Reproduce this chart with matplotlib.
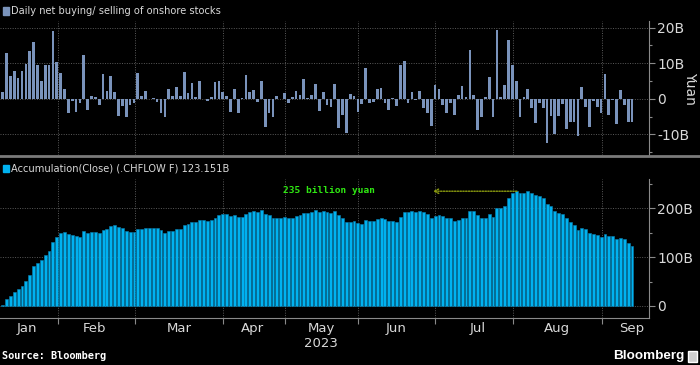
import matplotlib
matplotlib.use('Agg')
import matplotlib.pyplot as plt
from matplotlib.patches import Rectangle
from matplotlib.lines import Line2D
from matplotlib.ticker import FixedLocator

plt.rcParams['font.family'] = ['DejaVu Sans']

# Daily net buying / selling of onshore stocks (billion yuan), one value per trading day
daily_flow = [
    2.0, 13.0, 6.3, 7.8, 5.8, 7.7, 9.8, 13.5, 16.0, 9.5,
    5.0, 9.5, 9.4, 19.0, 10.4, 7.2, 2.9, -4.1, -0.5, -3.8,
    -1.3, 12.4, -3.2, 0.9, 0.6, -1.8, 6.9, 2.1, 6.3, 2.0,
    -4.8, -2.1, -5.0, -1.8, -1.1, 7.2, 0.9, 2.1, -0.1, 0.1,
    -1.0, -4.1, -5.2, 2.9, 0.9, 3.4, 0.9, 7.4, 1.7, 4.4,
    0.6, 4.9, 0.0, -0.7, 0.6, 4.6, 5.0, 1.8, 0.7, -3.8,
    2.7, -4.1, 0.1, 6.6, 2.0, 2.4, -0.9, 4.9, -7.8, -3.9,
    -5.0, 0.9, 0.0, 1.7, -1.2, 0.6, 2.1, 1.0, 5.7, 0.1,
    1.2, 4.1, -3.3, 1.8, -1.8, -2.2, 4.1, -8.1, -4.5, -9.6,
    1.5, 0.7, -3.8, -1.5, 8.7, -1.2, -1.0, 2.7, 3.0, -1.2,
    -3.0, 0.1, -2.1, 9.5, 10.7, -1.2, 1.8, -0.4, 2.1, -2.5,
    -4.0, -7.6, 3.8, 2.9, -1.8, -4.0, -1.3, -4.5, 1.2, 3.7,
    0.5, 13.8, 1.1, -8.8, -5.0, 0.5, 6.1, -5.2, 19.2, 0.6,
    3.8, 16.6, 9.5, 5.0, -5.0, 0.6, 2.9, -2.5, -6.9, -1.2,
    -2.5, -12.4, -4.8, -9.8, -4.7, -1.4, -8.6, -6.4, -6.4, -10.5,
    3.4, -2.4, -8.0, -0.7, -2.3, -4.1, 7.0, -4.4, -0.2, -7.0,
    2.4, -1.8, -6.6, -6.4,
]

# Accumulation (close), billion yuan
accumulated = [
    1.8, 13.6, 19.7, 27.9, 34.0, 40.8, 50.3, 63.3, 81.0, 89.0,
    93.9, 103.4, 112.2, 132.0, 140.8, 149.0, 151.0, 146.9, 146.3, 142.9,
    140.8, 153.0, 150.3, 151.0, 151.0, 150.3, 155.0, 158.5, 164.6, 166.7,
    161.2, 159.2, 154.4, 152.4, 151.0, 158.5, 158.5, 160.5, 160.5, 160.5,
    159.2, 155.0, 150.3, 153.0, 153.0, 157.0, 158.5, 165.3, 167.3, 171.4,
    171.4, 175.5, 175.5, 174.8, 175.5, 179.6, 185.7, 188.4, 187.8, 184.4,
    186.4, 182.3, 182.3, 188.4, 191.8, 193.9, 192.5, 196.6, 188.4, 185.7,
    180.3, 181.0, 181.0, 182.3, 181.0, 181.0, 184.4, 185.7, 190.5, 190.5,
    192.5, 195.9, 192.5, 194.6, 191.8, 190.5, 193.9, 186.4, 181.0, 172.1,
    172.8, 173.5, 170.7, 168.0, 175.5, 174.8, 173.5, 177.6, 179.6, 178.2,
    174.8, 174.8, 172.8, 181.6, 193.2, 192.5, 193.9, 192.5, 193.9, 191.8,
    188.4, 179.6, 183.7, 187.1, 184.4, 180.3, 179.6, 174.8, 175.5, 179.6,
    179.6, 193.9, 193.9, 185.7, 181.0, 181.0, 187.8, 181.6, 201.4, 201.4,
    205.4, 221.8, 231.3, 234.7, 231.3, 231.3, 234.7, 231.3, 226.5, 224.5,
    220.4, 208.2, 204.1, 193.9, 189.8, 187.8, 179.6, 172.8, 166.7, 155.1,
    159.2, 157.1, 149.0, 146.9, 144.9, 140.8, 146.9, 144.2, 144.2, 136.7,
    138.8, 136.7, 129.9, 123.151,
]

month_names = ['Jan', 'Feb', 'Mar', 'Apr', 'May\n2023', 'Jun', 'Jul', 'Aug', 'Sep']
month_label_pos = [6.3, 23.9, 45.7, 64.8, 82.5, 101.9, 122.9, 143.6, 163.0]
month_bounds = [14.25, 34.2, 57.15, 73.0, 92.1, 112.1, 132.3, 155.2]

daily_ticks = [20, 10, 0, -10]
daily_tick_labels = ['20B', '10B', '0', '-10B']
daily_minor = [15, 5, -5, -15]
accum_ticks = [0, 100, 200]
accum_tick_labels = ['0', '100B', '200B']
accum_minor = [50, 150, 250]

peak_label = '235 billion yuan'
peak_value = 235
peak_idx = 133.2
arrow_end_idx = 111.4

DAILY_COLOR = '#7a93bb'
ACCUM_COLOR = '#00b2f0'
TEXT_COLOR = '#d9d9d9'
GRID_COLOR = '#5a5a5a'
AXIS_COLOR = '#8a8a8a'

W, H = 700, 365
fig = plt.figure(figsize=(W / 100, H / 100), dpi=100, facecolor='black')


def px_axes(left, top, right, bottom):
    return fig.add_axes([left / W, 1 - bottom / H, (right - left) / W, (bottom - top) / H])


def style_axes(ax, ticks, labels, minor):
    ax.set_facecolor('black')
    for side in ['left', 'top', 'bottom']:
        ax.spines[side].set_visible(False)
    ax.spines['right'].set_color(AXIS_COLOR)
    ax.spines['right'].set_linewidth(0.8)
    ax.yaxis.tick_right()
    ax.set_yticks(ticks)
    ax.set_yticklabels(labels)
    ax.yaxis.set_minor_locator(FixedLocator(minor))
    ax.tick_params(axis='y', which='major', length=4, width=0.8, color=AXIS_COLOR,
                   labelcolor=TEXT_COLOR, labelsize=10, pad=2)
    ax.tick_params(axis='y', which='minor', length=2.5, width=0.8, color=AXIS_COLOR)
    ax.set_xlim(-0.7, 167.4)
    ax.grid(True, axis='y', which='major', color=GRID_COLOR, linestyle=(0, (1, 1.5)), linewidth=0.7)
    for b in month_bounds:
        ax.axvline(b, color=GRID_COLOR, linestyle=(0, (1, 1.5)), linewidth=0.7, zorder=0)
    ax.set_axisbelow(True)


# top panel: daily flows
ax1 = px_axes(0, 20.5, 649, 155)
x_daily = list(range(len(daily_flow)))
ax1.bar(x_daily, daily_flow, width=0.7, color=DAILY_COLOR, linewidth=0)
style_axes(ax1, daily_ticks, daily_tick_labels, daily_minor)
ax1.set_ylim(-15.77, 22.0)
ax1.set_xticks([])
fig.text(690 / W, 1 - 88 / H, 'Yuan', color=TEXT_COLOR, fontsize=10, rotation=-90,
         va='center', ha='center')

# bottom panel: accumulation
ax2 = px_axes(0, 179, 649, 318)
x_acc = list(range(len(accumulated)))
ax2.bar(x_acc, accumulated, width=0.75, color=ACCUM_COLOR, edgecolor='#0a7fb0', linewidth=0.4)
style_axes(ax2, accum_ticks, accum_tick_labels, accum_minor)
ax2.set_ylim(-24.6, 260)
ax2.spines['bottom'].set_visible(True)
ax2.spines['bottom'].set_color(AXIS_COLOR)
ax2.spines['bottom'].set_linewidth(0.8)
ax2.set_xticks(month_bounds)
ax2.set_xticklabels([])
ax2.xaxis.set_minor_locator(FixedLocator(month_label_pos))
ax2.set_xticklabels(month_names, minor=True)
ax2.tick_params(axis='x', which='major', length=4, width=0.8, color=AXIS_COLOR)
ax2.tick_params(axis='x', which='minor', length=0, labelcolor=TEXT_COLOR, labelsize=9.5, pad=3)
for lbl in ax2.get_xticklabels(minor=True):
    lbl.set_linespacing(1.15)

# peak annotation
ax2.annotate('', xy=(arrow_end_idx, peak_value), xytext=(peak_idx, peak_value),
             arrowprops=dict(arrowstyle='->', linestyle=(0, (1, 1)), color='#8c9c10',
                             lw=1.0, shrinkA=0, shrinkB=0, mutation_scale=8))
ax2.text(84.4, peak_value + 2, peak_label, color='#2fe812', fontsize=6.8,
         fontweight='bold', family='DejaVu Sans Mono', ha='center', va='center')

# legends
fig.patches.append(Rectangle((3 / W, 1 - 14.5 / H), 6 / W, 7 / H, transform=fig.transFigure,
                             color=DAILY_COLOR, figure=fig))
fig.text(11 / W, 1 - 11 / H, 'Daily net buying/ selling of onshore stocks', color=TEXT_COLOR,
         fontsize=7.1, va='center', ha='left')
fig.patches.append(Rectangle((3 / W, 1 - 172 / H), 6 / W, 7 / H, transform=fig.transFigure,
                             color=ACCUM_COLOR, figure=fig))
fig.text(11 / W, 1 - 168.5 / H, 'Accumulation(Close) (.CHFLOW F) %.3fB' % accumulated[-1],
         color=TEXT_COLOR, fontsize=7.1, va='center', ha='left')

# separator between panels
fig.add_artist(Line2D([0, 1], [1 - 156 / H, 1 - 156 / H], transform=fig.transFigure,
                      color='#7a7a7a', linewidth=2))

# footer
fig.text(2 / W, 1 - 356 / H, 'Source: Bloomberg', color='white', fontsize=7.4,
         fontweight='bold', family='DejaVu Sans Mono', va='center', ha='left')
fig.text(684 / W, 1 - 356 / H, 'Bloomberg', color='white', fontsize=9.7,
         fontweight='bold', family='Liberation Sans', va='center', ha='right')
fig.patches.append(Rectangle((688 / W, 1 - 362 / H), 9 / W, 11 / H, transform=fig.transFigure,
                             facecolor='#cfcfcf', edgecolor='white', figure=fig))

fig.savefig('out.png', dpi=100, facecolor='black')
